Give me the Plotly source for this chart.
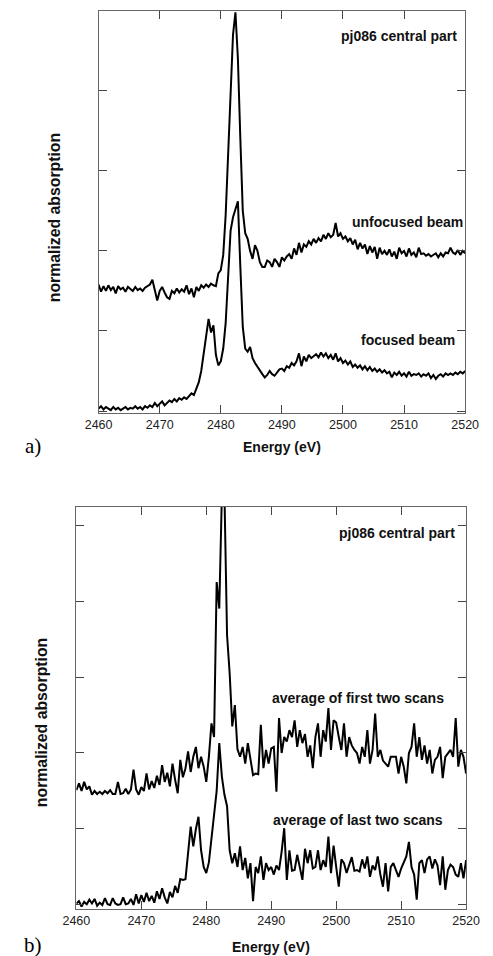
import plotly.graph_objects as go

# ---------------- data ----------------
ENERGY = [round(2460 + 0.4 * i, 1) for i in range(151)]   # eV grid, 2460..2520
X_TICKS = [2460, 2470, 2480, 2490, 2500, 2510, 2520]
Y_TICKS = [0, 1, 2, 3, 4, 5]

# panel a) unfocused beam (upper curve)
UNFOCUSED = [
    1.58, 1.49, 1.56, 1.50, 1.57, 1.51, 1.55, 1.47, 1.56, 1.52,
    1.54, 1.49, 1.55, 1.52, 1.50, 1.55, 1.51, 1.53, 1.50, 1.54,
    1.56, 1.58, 1.64, 1.52, 1.38, 1.50, 1.55, 1.48, 1.42, 1.40,
    1.50, 1.47, 1.53, 1.48, 1.52, 1.49, 1.57, 1.46, 1.53, 1.42,
    1.55, 1.50, 1.57, 1.54, 1.58, 1.55, 1.59, 1.57, 1.56, 1.72,
    1.76, 1.95, 2.45, 3.20, 3.95, 4.70, 4.98, 4.40, 3.40, 2.50,
    2.22, 2.15, 2.00, 1.90, 2.07, 2.00, 1.86, 1.80, 1.80, 1.88,
    1.86, 1.80, 1.90, 1.86, 1.80, 1.92, 1.88, 1.93, 1.96, 1.90,
    2.03, 1.95, 2.10, 1.98, 2.08, 2.05, 2.12, 2.08, 2.15, 2.10,
    2.16, 2.12, 2.20, 2.15, 2.22, 2.17, 2.20, 2.35, 2.18, 2.22,
    2.15, 2.18, 2.12, 2.16, 2.08, 2.14, 2.02, 2.10, 2.03, 2.08,
    1.96, 2.06, 1.98, 2.05, 1.90, 2.04, 1.96, 2.00, 1.95, 2.02,
    1.93, 1.99, 1.90, 2.04, 1.97, 2.00, 1.93, 2.03, 1.95, 1.98,
    1.92, 2.04, 1.96, 1.97, 1.94, 1.96, 1.93, 1.95, 1.97, 1.92,
    1.97, 1.93, 1.98, 1.97, 2.04, 1.98, 1.96, 2.01, 1.95, 2.00,
    1.97,
]

# panel a) focused beam (lower curve)
FOCUSED = [
    0.03, 0.06, 0.02, 0.05, 0.03, 0.01, 0.05, 0.02, 0.04, 0.01,
    0.03, 0.05, 0.02, 0.04, 0.03, 0.06, 0.03, 0.05, 0.02, 0.06,
    0.04, 0.07, 0.05, 0.10, 0.06, 0.09, 0.12, 0.07, 0.10, 0.13,
    0.11, 0.15, 0.12, 0.16, 0.14, 0.17, 0.15, 0.18, 0.22, 0.20,
    0.27, 0.36, 0.50, 0.70, 0.90, 1.15, 0.98, 1.07, 0.70, 0.57,
    0.62, 0.78, 1.10, 1.65, 2.25, 2.42, 2.52, 2.62, 1.80, 1.05,
    0.78, 0.74, 0.80, 0.66, 0.60, 0.55, 0.50, 0.46, 0.42, 0.45,
    0.50, 0.46, 0.44, 0.48, 0.52, 0.53, 0.50, 0.56, 0.54, 0.60,
    0.57, 0.62, 0.72, 0.56, 0.68, 0.62, 0.70, 0.66, 0.69, 0.71,
    0.67, 0.73, 0.68, 0.72, 0.66, 0.70, 0.64, 0.72, 0.62, 0.66,
    0.60, 0.63, 0.58, 0.62, 0.55, 0.58, 0.54, 0.57, 0.52, 0.56,
    0.51, 0.55, 0.50, 0.53, 0.49, 0.52, 0.48, 0.51, 0.47, 0.49,
    0.42, 0.48, 0.45, 0.49, 0.44, 0.47, 0.43, 0.49, 0.44, 0.46,
    0.45, 0.47, 0.43, 0.46, 0.44, 0.47, 0.41, 0.45, 0.40, 0.44,
    0.46, 0.43, 0.47, 0.45, 0.47, 0.45, 0.48, 0.46, 0.49, 0.47,
    0.50,
]

# panel b) average of first two scans (upper curve)
FIRST_TWO = [
    1.51, 1.60, 1.50, 1.62, 1.52, 1.56, 1.45, 1.50, 1.46, 1.49,
    1.46, 1.50, 1.47, 1.51, 1.46, 1.46, 1.62, 1.46, 1.47, 1.53,
    1.46, 1.52, 1.78, 1.52, 1.45, 1.55, 1.50, 1.73, 1.52, 1.63,
    1.54, 1.70, 1.58, 1.84, 1.62, 1.74, 1.56, 1.86, 1.65, 1.47,
    1.91, 1.68, 1.80, 2.02, 1.75, 1.95, 2.08, 1.80, 1.95, 1.82,
    1.62, 1.95, 2.39, 2.21, 4.25, 3.90, 5.40, 5.40, 3.55, 3.05,
    2.35, 2.63, 2.05, 1.95, 2.08, 1.86, 2.13, 1.91, 1.71, 1.73,
    1.72, 2.37, 1.80, 2.04, 1.86, 2.06, 2.08, 1.49, 2.46, 2.00,
    2.21, 2.15, 2.30, 2.21, 2.43, 2.08, 2.30, 2.13, 2.25, 1.95,
    2.10, 1.80, 2.21, 2.39, 1.95, 2.30, 2.15, 2.59, 2.04, 2.43,
    2.40, 2.21, 2.04, 2.39, 1.95, 2.21, 2.10, 2.04, 2.00, 1.86,
    2.08, 1.95, 2.30, 1.86, 2.04, 2.52, 1.95, 2.04, 1.90, 1.86,
    1.82, 1.95, 1.95, 1.95, 1.73, 1.95, 1.82, 1.60, 2.00, 2.08,
    2.39, 1.95, 2.21, 1.91, 2.10, 1.86, 2.04, 1.73, 1.91, 1.95,
    2.08, 1.67, 1.95, 2.00, 2.04, 1.95, 2.46, 1.82, 2.04, 1.95,
    1.73,
]

# panel b) average of last two scans (lower curve)
LAST_TWO = [
    0.02, 0.05, -0.02, 0.04, 0.01, 0.07, 0.02, 0.08, -0.01, 0.03,
    0.00, 0.09, 0.01, 0.00, 0.09, 0.02, 0.00, 0.01, 0.10, 0.01,
    0.02, 0.08, 0.00, 0.14, 0.02, 0.13, 0.04, 0.16, 0.05, 0.12,
    0.03, 0.18, 0.08, 0.22, 0.10, 0.02, 0.17, 0.10, 0.25, 0.16,
    0.34, 0.33, 0.34, 0.70, 1.03, 0.77, 1.00, 1.16, 0.72, 0.50,
    0.42, 0.56, 0.90, 1.25, 1.50, 2.13, 1.69, 1.45, 1.30, 0.72,
    0.55, 0.68, 0.50, 0.77, 0.46, 0.62, 0.35, 0.55, 0.05, 0.50,
    0.42, 0.64, 0.33, 0.55, 0.46, 0.50, 0.40, 0.52, 0.46, 0.70,
    1.01, 0.33, 0.72, 0.45, 0.46, 0.66, 0.50, 0.33, 0.74, 0.55,
    0.72, 0.48, 0.50, 0.72, 0.46, 0.59, 0.50, 0.90, 0.42, 0.78,
    0.50, 0.24, 0.60, 0.55, 0.42, 0.52, 0.63, 0.45, 0.46, 0.44,
    0.60, 0.48, 0.64, 0.37, 0.52, 0.46, 0.64, 0.40, 0.24, 0.55,
    0.18, 0.50, 0.55, 0.46, 0.37, 0.48, 0.55, 0.64, 0.83, 0.50,
    0.40, 0.07, 0.55, 0.59, 0.42, 0.60, 0.64, 0.48, 0.60, 0.52,
    0.26, 0.64, 0.20, 0.46, 0.53, 0.50, 0.40, 0.37, 0.55, 0.35,
    0.59,
]

TITLE_A = "pj086 central part"
TITLE_B = "pj086 central part"
LABELS_A = ["unfocused beam", "focused beam"]
LABELS_B = ["average of first two scans", "average of last two scans"]

# ---------------- figure ----------------
# the page body keeps its default 8px margin, so the figure is sized to fill
# the rest of the 493x956 window and page positions are shifted by 8px
PAGE_W, PAGE_H, BODY = 493, 956, 8
W, H = PAGE_W - BODY, PAGE_H - BODY
def fx(p):
    return (p - BODY) / W
def fy(p):
    return 1 - (p - BODY) / H

SANS = "Liberation Sans, Arial, sans-serif"
line_style = dict(color="black", width=2)

fig = go.Figure()
fig.add_trace(go.Scatter(x=ENERGY, y=UNFOCUSED, mode="lines", line=line_style,
                         xaxis="x", yaxis="y", showlegend=False, hoverinfo="skip"))
fig.add_trace(go.Scatter(x=ENERGY, y=FOCUSED, mode="lines", line=line_style,
                         xaxis="x", yaxis="y", showlegend=False, hoverinfo="skip"))
fig.add_trace(go.Scatter(x=ENERGY, y=FIRST_TWO, mode="lines", line=line_style,
                         xaxis="x2", yaxis="y2", showlegend=False, hoverinfo="skip"))
fig.add_trace(go.Scatter(x=ENERGY, y=LAST_TWO, mode="lines", line=line_style,
                         xaxis="x2", yaxis="y2", showlegend=False, hoverinfo="skip"))

axis_common = dict(showline=True, linecolor="#666666", linewidth=1, mirror="ticks",
                   ticks="inside", ticklen=8, tickwidth=1, tickcolor="#444444",
                   showgrid=False, zeroline=False)

fig.update_layout(
    width=W, height=H, autosize=False,
    margin=dict(l=0, r=0, t=0, b=0),
    paper_bgcolor="white", plot_bgcolor="white",
    showlegend=False,
    xaxis=dict(domain=[fx(89.3), fx(478.3)], range=[2460, 2520], tickvals=X_TICKS,
               ticktext=[str(t) for t in X_TICKS], anchor="y",
               tickfont=dict(family=SANS, size=12.5, color="#222222"), **axis_common),
    yaxis=dict(domain=[fy(413), fy(10.7)], range=[-0.025, 5.0], tickvals=Y_TICKS,
               showticklabels=False, anchor="x", **axis_common),
    xaxis2=dict(domain=[fx(65.7), fx(479.3)], range=[2460, 2520], tickvals=X_TICKS,
                ticktext=[str(t) for t in X_TICKS], anchor="y2",
                tickfont=dict(family=SANS, size=12.5, color="#222222"), **axis_common),
    yaxis2=dict(domain=[fy(909), fy(507)], range=[-0.053, 5.237], tickvals=Y_TICKS,
                showticklabels=False, anchor="x2", **axis_common),
)

bold = dict(family=SANS, size=14, color="#111111")
ann = []
# in-plot labels (data coordinates)
ann.append(dict(x=2509.2, y=4.69, xref="x", yref="y", text="<b>%s</b>" % TITLE_A))
ann.append(dict(x=2510.5, y=2.36, xref="x", yref="y", text="<b>%s</b>" % LABELS_A[0]))
ann.append(dict(x=2510.7, y=0.89, xref="x", yref="y", text="<b>%s</b>" % LABELS_A[1]))
ann.append(dict(x=2509.35, y=4.90, xref="x2", yref="y2", text="<b>%s</b>" % TITLE_B))
ann.append(dict(x=2503.4, y=2.72, xref="x2", yref="y2", text="<b>%s</b>" % LABELS_B[0]))
ann.append(dict(x=2503.4, y=1.12, xref="x2", yref="y2", text="<b>%s</b>" % LABELS_B[1]))
for a in ann:
    a.update(showarrow=False, xanchor="center", yanchor="middle", font=bold)

# axis titles and panel letters (paper coordinates)
extra = [
    dict(x=fx(283.8), y=fy(447), text="<b>Energy (eV)</b>", font=bold),
    dict(x=fx(272.5), y=fy(946.7), text="<b>Energy (eV)</b>", font=bold),
    dict(x=fx(43.3), y=fy(218), text="<b>normalized absorption</b>", textangle=-90,
         font=dict(family=SANS, size=15.8, color="#111111")),
    dict(x=fx(28.3), y=fy(723), text="<b>normalized absorption</b>", textangle=-90,
         font=dict(family=SANS, size=15.8, color="#111111")),
    dict(x=fx(20), y=fy(446), text="a)",
         font=dict(family="Liberation Serif, Times New Roman, serif", size=21, color="black")),
    dict(x=fx(20), y=fy(945), text="b)",
         font=dict(family="Liberation Serif, Times New Roman, serif", size=21, color="black")),
]
for a in extra:
    a.update(xref="paper", yref="paper", showarrow=False, xanchor="center", yanchor="middle")
    ann.append(a)

fig.update_layout(annotations=ann)
fig.write_html("out.html", config={"displayModeBar": False, "responsive": False})
